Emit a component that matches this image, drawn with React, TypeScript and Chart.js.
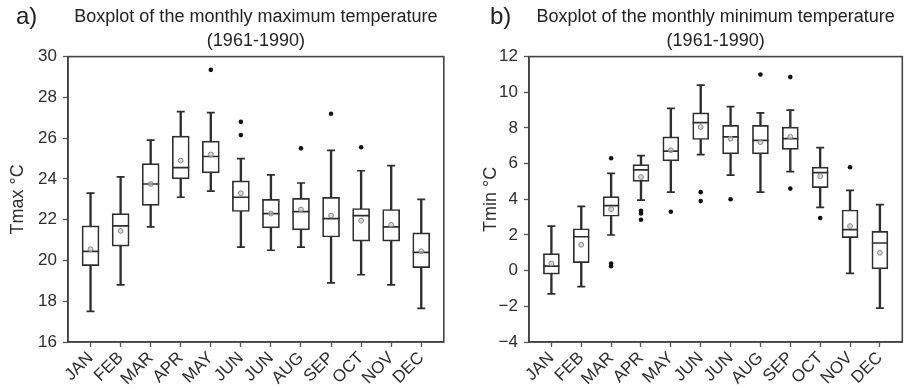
import React, { useEffect, useRef } from 'react';
import { Chart, registerables } from 'chart.js';

Chart.register(...registerables);

const MONTHS = ['JAN', 'FEB', 'MAR', 'APR', 'MAY', 'JUN', 'JUN', 'AUG', 'SEP', 'OCT', 'NOV', 'DEC'];

// a) monthly maximum temperature (°C)
const TMAX_MIN = [17.5, 18.8, 21.65, 23.1, 23.4, 20.65, 20.5, 20.65, 18.9, 19.3, 18.8, 17.65];
const TMAX_Q1 = [19.75, 20.7, 22.7, 24.0, 24.3, 22.4, 21.6, 21.5, 21.15, 20.95, 20.95, 19.65];
const TMAX_MEDIAN = [20.45, 21.7, 23.75, 24.55, 25.1, 23.1, 22.3, 22.4, 22.05, 22.2, 21.65, 20.4];
const TMAX_Q3 = [21.7, 22.3, 24.75, 26.1, 25.85, 23.9, 23.0, 23.05, 23.1, 22.55, 22.5, 21.35];
const TMAX_MAX = [23.3, 24.1, 25.9, 27.3, 27.25, 25.0, 24.2, 23.8, 25.4, 24.4, 24.65, 23.0];
const TMAX_MEAN = [20.55, 21.45, 23.75, 24.9, 25.2, 23.3, 22.3, 22.5, 22.2, 21.95, 21.75, 20.45];
const TMAX_OUTLIERS = [[], [], [], [], [29.35], [26.8, 26.15], [], [25.5], [27.2], [25.55], [], []];

// b) monthly minimum temperature (°C)
const TMIN_MIN = [-1.3, -0.9, 2.0, 3.95, 4.4, 6.5, 5.35, 4.4, 5.55, 3.55, -0.15, -2.1];
const TMIN_Q1 = [-0.2, 0.45, 3.05, 5.0, 6.15, 7.35, 6.55, 6.55, 6.8, 4.65, 1.85, 0.1];
const TMIN_MEDIAN = [0.25, 1.9, 3.65, 5.65, 6.7, 8.3, 7.5, 7.3, 7.4, 5.5, 2.3, 1.55];
const TMIN_Q3 = [0.95, 2.35, 4.15, 5.95, 7.5, 8.85, 8.15, 8.15, 8.05, 5.8, 3.4, 2.2];
const TMIN_MAX = [2.5, 3.6, 5.45, 6.45, 9.1, 10.4, 9.2, 8.85, 9.0, 6.9, 4.5, 3.7];
const TMIN_MEAN = [0.4, 1.45, 3.45, 5.25, 6.75, 8.05, 7.4, 7.2, 7.5, 5.3, 2.5, 1.0];
const TMIN_OUTLIERS = [[], [], [6.3, 0.4, 0.25], [3.35, 3.2, 2.85], [3.3], [4.4, 3.9], [4.0], [11.0], [10.85, 4.6], [2.95], [5.8], []];

const TMAX_TICKS = [16, 18, 20, 22, 24, 26, 28, 30];
const TMIN_TICKS = [-4, -2, 0, 2, 4, 6, 8, 10, 12];

const FONT = "'Liberation Sans', Arial, sans-serif";
const INK = '#2e2e2e';

type PanelProps = {
  letter: string;
  title: string[];
  yTitle: string;
  min: number[];
  q1: number[];
  median: number[];
  q3: number[];
  max: number[];
  mean: number[];
  outliers: number[][];
  yTicks: number[];
  canvasWidth: number;
  yWidth: number;
  yTitlePad: number;
  padRight: number;
  boxWidth: number;
  letterLeft: number;
};

const framePlugin = {
  id: 'frame',
  afterDatasetsDraw(chart: any) {
    const { ctx, chartArea } = chart;
    ctx.save();
    ctx.strokeStyle = '#444';
    ctx.lineWidth = 1.6;
    ctx.strokeRect(chartArea.left, chartArea.top, chartArea.right - chartArea.left, chartArea.bottom - chartArea.top);
    ctx.restore();
  },
};

function Panel(p: PanelProps) {
  const ref = useRef<HTMLCanvasElement | null>(null);
  useEffect(() => {
    if (!ref.current) return;
    const idx = MONTHS.map((_, i) => i);
    const maxOut = Math.max(...p.outliers.map((o) => o.length));
    const outlierSets: any[] = [];
    for (let k = 0; k < maxOut; k++) {
      outlierSets.push({
        type: 'line',
        data: p.outliers.map((o) => (o[k] === undefined ? null : o[k])),
        showLine: false,
        pointStyle: 'circle',
        pointRadius: 2.3,
        pointBackgroundColor: '#111',
        pointBorderWidth: 0,
        order: 0,
      });
    }
    const chart = new Chart(ref.current, {
      type: 'bar',
      data: {
        labels: idx,
        datasets: [
          {
            type: 'bar',
            data: p.min.map((v, i) => [v, p.max[i]]),
            backgroundColor: INK,
            borderWidth: 0,
            barThickness: 1.7,
            grouped: false,
            order: 5,
          } as any,
          {
            type: 'bar',
            data: p.q1.map((v, i) => [v, p.q3[i]]),
            backgroundColor: '#ffffff',
            borderColor: INK,
            borderWidth: 1.7,
            borderSkipped: false,
            barThickness: p.boxWidth,
            grouped: false,
            order: 4,
          } as any,
          {
            type: 'line',
            data: p.min,
            showLine: false,
            pointStyle: 'line',
            pointRadius: 4,
            pointBorderColor: INK,
            pointBorderWidth: 1.7,
            order: 3,
          } as any,
          {
            type: 'line',
            data: p.max,
            showLine: false,
            pointStyle: 'line',
            pointRadius: 4,
            pointBorderColor: INK,
            pointBorderWidth: 1.7,
            order: 3,
          } as any,
          {
            type: 'line',
            data: p.median,
            showLine: false,
            pointStyle: 'line',
            pointRadius: p.boxWidth / 2,
            pointBorderColor: INK,
            pointBorderWidth: 1.7,
            order: 2,
          } as any,
          {
            type: 'line',
            data: p.mean,
            showLine: false,
            pointStyle: 'circle',
            pointRadius: 2.4,
            pointBackgroundColor: 'rgba(190,190,190,0.6)',
            pointBorderColor: '#888',
            pointBorderWidth: 1,
            order: 1,
          } as any,
          ...outlierSets,
        ],
      },
      options: {
        responsive: false,
        animation: false,
        events: [],
        layout: { padding: { left: 0, right: p.padRight, top: 0, bottom: 0 } },
        plugins: {
          legend: { display: false },
          tooltip: { enabled: false },
          title: {
            display: true,
            text: p.title,
            fullSize: false,
            color: '#222',
            font: { family: FONT, size: 18, weight: 'normal', lineHeight: 1.35 },
            padding: { top: 5, bottom: 3 },
          },
        },
        scales: {
          x: {
            type: 'linear',
            offset: false,
            min: -0.75,
            max: 11.75,
            afterBuildTicks: (axis: any) => {
              axis.ticks = MONTHS.map((_, i) => ({ value: i }));
            },
            afterFit: (axis: any) => {
              axis.height = 47;
            },
            ticks: {
              autoSkip: false,
              minRotation: 45,
              maxRotation: 45,
              padding: 1,
              color: INK,
              font: { family: FONT, size: 17 },
              callback: (v: any) => MONTHS[Math.round(v)] ?? '',
            },
            grid: { display: true, offset: false, drawOnChartArea: false, drawTicks: true, tickLength: 5, tickColor: '#555', tickWidth: 1.3 },
            border: { display: true, color: '#444', width: 1.6 },
          } as any,
          y: {
            type: 'linear',
            min: p.yTicks[0],
            max: p.yTicks[p.yTicks.length - 1],
            afterBuildTicks: (axis: any) => {
              axis.ticks = p.yTicks.map((v) => ({ value: v }));
            },
            afterFit: (axis: any) => {
              axis.width = p.yWidth;
            },
            ticks: {
              padding: 6,
              color: INK,
              font: { family: FONT, size: 17 },
              callback: (v: any) => String(v).replace('-', '\u2212'),
            },
            title: {
              display: true,
              text: p.yTitle,
              color: INK,
              font: { family: FONT, size: 18, lineHeight: 1.2 },
              padding: { top: p.yTitlePad, bottom: 0 },
            },
            grid: { display: true, drawOnChartArea: false, drawTicks: true, tickLength: 5, tickColor: '#555', tickWidth: 1.3 },
            border: { display: true, color: '#444', width: 1.6 },
          } as any,
        },
      },
      plugins: [framePlugin],
    });
    return () => chart.destroy();
  }, []);
  return (
    <div style={{ position: 'relative', width: 454, height: 389, overflow: 'hidden', background: '#fff' }}>
      <canvas ref={ref} width={p.canvasWidth} height={389} style={{ width: p.canvasWidth, height: 389, display: 'block' }} />
      <span
        style={{
          position: 'absolute',
          left: p.letterLeft,
          top: 2,
          fontFamily: FONT,
          fontSize: 24,
          color: '#222',
        }}
      >
        {p.letter}
      </span>
    </div>
  );
}

export default function App() {
  useEffect(() => {
    document.body.style.margin = '0';
  }, []);
  return (
    <div style={{ position: 'absolute', left: 0, top: 0, width: 908, height: 389, display: 'flex', background: '#fff' }}>
      <Panel
        letter="a)"
        title={['Boxplot of the monthly maximum temperature', '(1961-1990)']}
        yTitle="Tmax °C"
        min={TMAX_MIN}
        q1={TMAX_Q1}
        median={TMAX_MEDIAN}
        q3={TMAX_Q3}
        max={TMAX_MAX}
        mean={TMAX_MEAN}
        outliers={TMAX_OUTLIERS}
        yTicks={TMAX_TICKS}
        canvasWidth={454}
        yWidth={68}
        yTitlePad={7}
        padRight={4}
        boxWidth={17}
        letterLeft={16}
      />
      <Panel
        letter="b)"
        title={['Boxplot of the monthly minimum temperature', '(1961-1990)']}
        yTitle="Tmin °C"
        min={TMIN_MIN}
        q1={TMIN_Q1}
        median={TMIN_MEDIAN}
        q3={TMIN_Q3}
        max={TMIN_MAX}
        mean={TMIN_MEAN}
        outliers={TMIN_OUTLIERS}
        yTicks={TMIN_TICKS}
        canvasWidth={458}
        yWidth={75}
        yTitlePad={26}
        padRight={2}
        boxWidth={16}
        letterLeft={36}
      />
    </div>
  );
}
